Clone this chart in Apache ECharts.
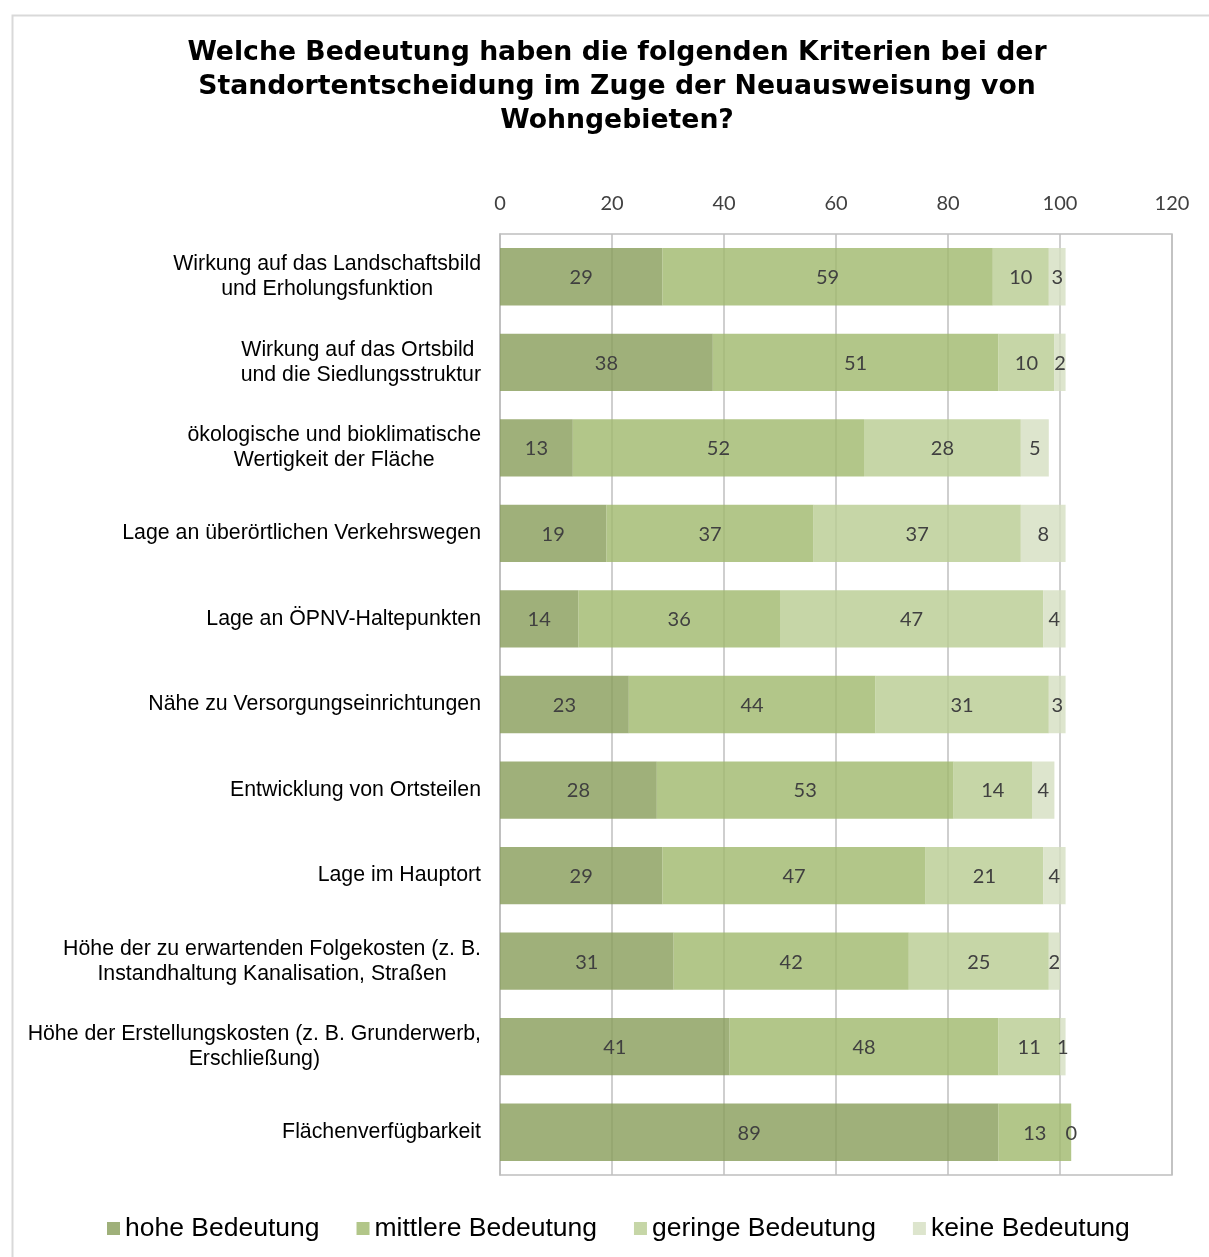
<!DOCTYPE html>
<html>
<head>
<meta charset="utf-8">
<script src="https://cdn.jsdelivr.net/npm/echarts@6/dist/echarts.min.js"></script>
<style>
html,body{margin:0;padding:0;background:#fff;}
#chart{width:1209px;height:1257px;}
</style>
</head>
<body>
<div id="chart"></div>
<script>
const titleText = 'Welche Bedeutung haben die folgenden Kriterien bei der\nStandortentscheidung im Zuge der Neuausweisung von\nWohngebieten?';
const categories = [
  'Wirkung auf das Landschaftsbild\nund Erholungsfunktion',
  'Wirkung auf das Ortsbild \nund die Siedlungsstruktur',
  'ökologische und bioklimatische\nWertigkeit der Fläche',
  'Lage an überörtlichen Verkehrswegen',
  'Lage an ÖPNV-Haltepunkten',
  'Nähe zu Versorgungseinrichtungen',
  'Entwicklung von Ortsteilen',
  'Lage im Hauptort',
  'Höhe der zu erwartenden Folgekosten (z. B.\nInstandhaltung Kanalisation, Straßen',
  'Höhe der Erstellungskosten (z. B. Grunderwerb,\nErschließung)',
  'Flächenverfügbarkeit'
];
const seriesNames = ['hohe Bedeutung', 'mittlere Bedeutung', 'geringe Bedeutung', 'keine Bedeutung'];
const hohe     = [29, 38, 13, 19, 14, 23, 28, 29, 31, 41, 89];
const mittlere = [59, 51, 52, 37, 36, 44, 53, 47, 42, 48, 13];
const geringe  = [10, 10, 28, 37, 47, 31, 14, 21, 25, 11, 0];
const keine    = [3, 2, 5, 8, 4, 3, 4, 4, 2, 1, null];
const xTicks = {min: 0, max: 120, interval: 20};

const colors = ['rgba(135,156,89,0.8)', 'rgba(159,184,107,0.8)', 'rgba(184,204,145,0.8)', 'rgba(212,223,192,0.8)'];
const values = [hohe, mittlere, geringe, keine];

const chart = echarts.init(document.getElementById('chart'), null, {renderer: 'canvas'});
chart.setOption({
  animation: false,
  backgroundColor: '#fff',
  graphic: [{
    type: 'rect', left: 10, top: 13, shape: {width: 1230, height: 1280},
    style: {fill: 'none', stroke: '#d9d9d9', lineWidth: 2}, z: -10
  }],
  title: {
    text: titleText,
    left: 612, top: 31, textAlign: 'center',
    textStyle: {fontFamily: 'DejaVu Sans', fontWeight: 'bold', fontSize: 26.7, lineHeight: 34, color: '#000'}
  },
  legend: {
    bottom: 10, left: 102,
    itemWidth: 13, itemHeight: 13, itemGap: 37, icon: 'rect',
    textStyle: {fontFamily: 'Liberation Sans', fontSize: 26.5, color: '#000'},
    data: seriesNames
  },
  grid: {left: 500, right: 37, top: 234, bottom: 82, show: true, borderColor: '#bfbfbf', borderWidth: 1.5, containLabel: false},
  xAxis: {
    type: 'value', position: 'top', min: xTicks.min, max: xTicks.max, interval: xTicks.interval,
    axisLine: {show: false}, axisTick: {show: false},
    axisLabel: {fontFamily: 'Lato', fontSize: 20, color: '#404040', margin: 20},
    splitLine: {show: true, lineStyle: {color: '#bfbfbf', width: 1.5}}
  },
  yAxis: {
    type: 'category', inverse: true, data: categories,
    axisLine: {show: true, lineStyle: {color: '#bfbfbf', width: 1.5}},
    axisTick: {show: false},
    axisLabel: {
      margin: 19,
      formatter: v => v.split('\n').map(s => '{a|' + s + '}').join('\n'),
      rich: {a: {align: 'center', fontFamily: 'Liberation Sans', fontSize: 21.3, lineHeight: 25, color: '#000'}}
    }
  },
  series: seriesNames.map((n, i) => ({
    name: n, type: 'bar', stack: 'total', data: values[i],
    barCategoryGap: '33%',
    itemStyle: {color: colors[i]},
    label: {show: true, position: 'inside', fontFamily: 'Lato', fontSize: 20, color: '#404040', offset: [0, 1]}
  }))
});
</script>
</body>
</html>
